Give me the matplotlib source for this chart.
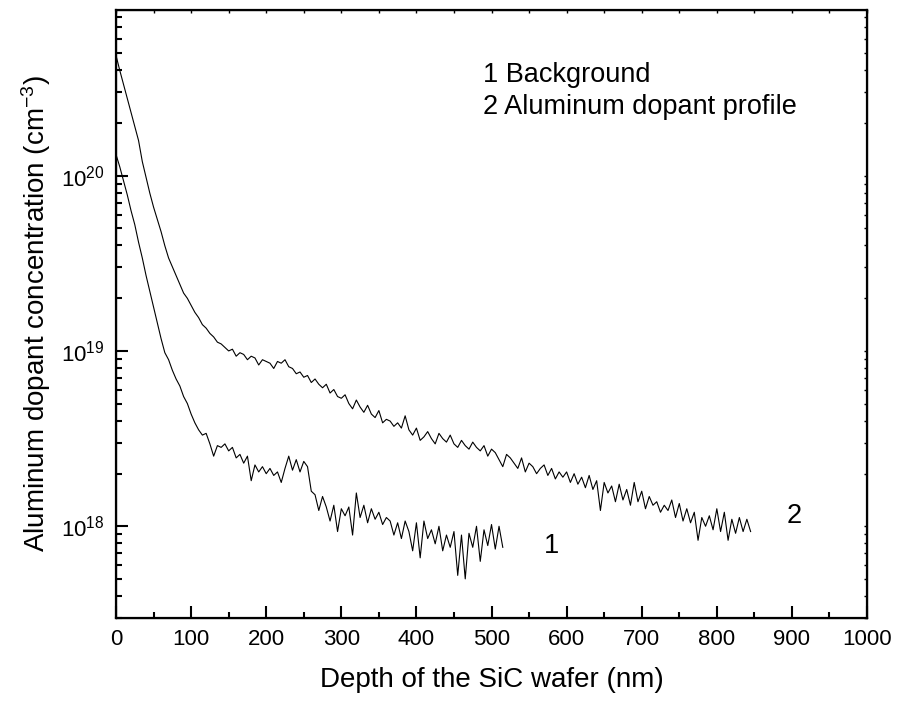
import matplotlib
matplotlib.use('Agg')
import matplotlib.pyplot as plt
import matplotlib.ticker as mticker
import numpy as np

plt.rcParams['font.family'] = ['Liberation Sans', 'DejaVu Sans']
plt.rcParams['mathtext.fontset'] = 'custom'
plt.rcParams['mathtext.rm'] = 'Liberation Sans'
plt.rcParams['mathtext.it'] = 'Liberation Sans'

# depth grid (nm), 5 nm steps
depth_bg = np.arange(0, 520, 5)
depth_al = np.arange(0, 850, 5)

# log10 of concentration (cm^-3)
log_bg = [20.12, 20.05, 19.97, 19.89, 19.80, 19.72, 19.62, 19.53, 19.43, 19.34,
          19.25, 19.16, 19.07, 18.99, 18.95, 18.89, 18.84, 18.80, 18.74, 18.70,
          18.64, 18.59, 18.55, 18.52, 18.53, 18.47, 18.40, 18.46, 18.45, 18.47,
          18.43, 18.45, 18.39, 18.41, 18.36, 18.40, 18.26, 18.35, 18.31, 18.34,
          18.30, 18.33, 18.29, 18.31, 18.25, 18.33, 18.40, 18.32, 18.38, 18.31,
          18.37, 18.34, 18.20, 18.18, 18.09, 18.17, 18.11, 18.03, 18.12, 17.97,
          18.10, 18.06, 18.11, 17.95, 18.19, 18.05, 18.12, 18.02, 18.10, 18.04,
          18.08, 18.01, 18.05, 18.03, 17.95, 18.02, 17.93, 18.03, 17.97, 17.86,
          18.02, 17.82, 18.03, 17.93, 17.98, 17.90, 18.00, 17.86, 17.95, 17.88,
          17.97, 17.72, 17.95, 17.70, 17.96, 17.88, 18.00, 17.80, 17.98, 17.89,
          18.01, 17.87, 18.00, 17.88]

log_al = [20.685, 20.60, 20.52, 20.44, 20.36, 20.28, 20.20, 20.08, 19.99, 19.90,
          19.82, 19.75, 19.68, 19.60, 19.53, 19.48, 19.43, 19.38, 19.33, 19.30,
          19.26, 19.22, 19.19, 19.15, 19.13, 19.10, 19.08, 19.05, 19.04, 19.02,
          19.00, 19.01, 18.97, 18.99, 18.98, 18.95, 18.97, 18.96, 18.92, 18.95,
          18.94, 18.93, 18.90, 18.94, 18.93, 18.95, 18.91, 18.90, 18.87, 18.88,
          18.85, 18.86, 18.82, 18.84, 18.81, 18.79, 18.81, 18.76, 18.78, 18.74,
          18.73, 18.75, 18.70, 18.67, 18.72, 18.68, 18.65, 18.69, 18.64, 18.62,
          18.66, 18.59, 18.61, 18.60, 18.57, 18.59, 18.56, 18.63, 18.55, 18.52,
          18.56, 18.49, 18.51, 18.54, 18.50, 18.47, 18.53, 18.50, 18.48, 18.52,
          18.47, 18.45, 18.49, 18.46, 18.44, 18.48, 18.45, 18.43, 18.46, 18.40,
          18.44, 18.42, 18.38, 18.34, 18.41, 18.39, 18.36, 18.33, 18.39, 18.31,
          18.36, 18.34, 18.30, 18.33, 18.35, 18.29, 18.33, 18.27, 18.31, 18.28,
          18.31, 18.25, 18.30, 18.24, 18.28, 18.22, 18.29, 18.21, 18.26, 18.09,
          18.25, 18.19, 18.23, 18.14, 18.24, 18.15, 18.21, 18.12, 18.25, 18.14,
          18.20, 18.10, 18.17, 18.12, 18.14, 18.08, 18.12, 18.09, 18.15, 18.05,
          18.13, 18.03, 18.10, 18.02, 18.08, 17.92, 18.05, 18.00, 18.06, 17.98,
          18.10, 17.97, 18.08, 17.92, 18.04, 17.96, 18.05, 17.97, 18.04, 17.97]

conc_bg = 10.0 ** np.array(log_bg)
conc_al = 10.0 ** np.array(log_al)

legend_lines = ['1 Background', '2 Aluminum dopant profile']

fig = plt.figure(figsize=(8.98, 7.09), dpi=100)
fig.set_facecolor('w')
ax = fig.add_axes([0.1292, 0.1284, 0.8363, 0.8575])

ax.plot(depth_bg, conc_bg, color='k', lw=0.8)
ax.plot(depth_al, conc_al, color='k', lw=0.8)

ax.set_yscale('log')
ax.set_xlim(0, 1000)
ax.set_ylim(3.0e17, 8.8e20)

ax.xaxis.set_major_locator(mticker.MultipleLocator(100))
ax.xaxis.set_minor_locator(mticker.MultipleLocator(50))
ax.yaxis.set_major_locator(mticker.LogLocator(base=10, numticks=10))
ax.yaxis.set_minor_locator(mticker.LogLocator(base=10, subs=np.arange(2, 10), numticks=20))
ax.yaxis.set_minor_formatter(mticker.NullFormatter())
ax.yaxis.set_major_formatter(mticker.FuncFormatter(
    lambda v, p: r'$\mathregular{10^{%d}}$' % round(np.log10(v))))

ax.tick_params(which='major', direction='in', length=8.5, width=1.5, labelsize=16, pad=8)
ax.tick_params(which='minor', direction='in', length=4.3, width=1.5)
for s in ax.spines.values():
    s.set_linewidth(1.6)

# short ticks on top and right
axt = ax.twiny()
axt.set_xlim(ax.get_xlim())
axt.xaxis.set_major_locator(mticker.MultipleLocator(50))
axt.tick_params(direction='in', length=2.5, width=1.0, labeltop=False)
axr = ax.twinx()
axr.set_yscale('log')
axr.set_ylim(ax.get_ylim())
axr.yaxis.set_major_locator(mticker.LogLocator(base=10, subs=np.arange(1, 10), numticks=30))
axr.yaxis.set_minor_locator(mticker.NullLocator())
axr.tick_params(direction='in', length=2.5, width=1.0, labelright=False)

ax.set_xlabel('Depth of the SiC wafer (nm)', fontsize=20, labelpad=12)
ax.set_ylabel('Aluminum dopant concentration (cm$^{\\mathregular{-3}}$)', fontsize=20, labelpad=6)

ax.text(0.489, 0.893, legend_lines[0], transform=ax.transAxes, fontsize=19.5, va='center')
ax.text(0.489, 0.840, legend_lines[1], transform=ax.transAxes, fontsize=19.5, va='center')

ax.text(580, 10 ** 17.89, '1', fontsize=19.5, ha='center', va='center')
ax.text(903, 10 ** 18.06, '2', fontsize=19.5, ha='center', va='center')

fig.savefig('out.png', dpi=100)
